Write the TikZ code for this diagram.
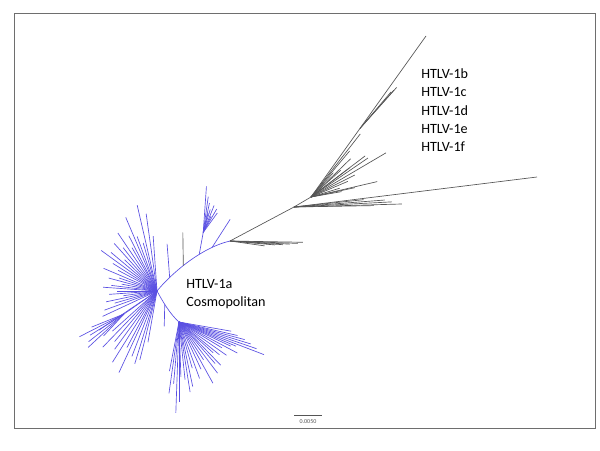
\documentclass[tikz,border=0pt]{standalone}
\usepackage{fontspec}
\setmainfont{Carlito}
\usetikzlibrary{positioning}
\definecolor{treeBlue} {HTML}{5A50E2}
\definecolor{treeGrey} {HTML}{555555}
\definecolor{frameGrey}{HTML}{6E6E6E}

\begin{document}
\begin{tikzpicture}[x=0.75pt, y=-0.75pt,
    blueleaf/.style={draw=treeBlue, line width=0.5pt},
    greyleaf/.style={draw=treeGrey, line width=0.5pt},
    clade/.style={font=\fontsize{10.6}{12}\selectfont, anchor=base west, inner sep=0pt}]
  \useasboundingbox (0,0) rectangle (600,450);
  \draw[frameGrey, line width=0.6pt] (14,13) rectangle (595,428);

  % hubs and junctions
  \coordinate (hubA) at (157,291);
  \coordinate (hubB) at (179,322);
  \coordinate (subA) at (124,314);
  \coordinate (jnA) at (230,241);
  \coordinate (jnB) at (294,207);
  \coordinate (hubC) at (311,197);
  \coordinate (tipTop) at (426,36);
  \coordinate (tipRight) at (537,177);

  % backbone (cosmopolitan part)
  \draw[blueleaf] (hubA) .. controls (170,275) and (200,248) .. (jnA)
    coordinate[pos=0.25] (bbA) coordinate[pos=0.45] (bbB)
    coordinate[pos=0.65] (bbC) coordinate[pos=0.8] (bbD);
  \draw[blueleaf] (hubA) .. controls (163,302) and (170,314) .. (hubB)
    coordinate[pos=0.4] (bbE);
  \draw[blueleaf] (bbA) -- ++(-2.6,-33.5);
  \draw[greyleaf] (bbB) -- ++(-0.5,-33);
  \draw[blueleaf] (bbC) -- ++(4,-22) coordinate (hubD);
  \draw[blueleaf] (bbD) -- ++(18,-28);
  \draw[blueleaf] (bbE) -- ++(-0.5,22);
  \draw[blueleaf] (hubA) -- (subA);

  % main blue fan
  \foreach \a/\l in {266/55, 262/78, 257/88, 254/50, 250/58, 247/80, 243/62,
      240/50, 236/70, 232/55, 228/64, 224/45, 220/60, 216/69, 212/52, 208/44,
      203/58, 199/40, 195/50, 191/36, 187/46, 184/54, 180/40, 176/48, 172/34,
      168/52, 164/44, 160/56, 155/60, 146/70, 138/60, 134/78, 130/66, 126/72,
      122/84, 118/64, 115/90, 111/70, 107/76, 104/71, 100/52}
    \draw[blueleaf] (hubA) -- ++(\a:\l);
  \foreach \a/\l in {153/50, 148/40, 142/45, 137/49, 158/35, 133/30}
    \draw[blueleaf] (subA) -- ++(\a:\l);

  % lower blue fan
  \foreach \a/\l in {10/53, 13/60, 15/68, 17/75, 19/82, 21/91, 23/62, 25/57,
      28/66, 31/50, 35/58, 39/52, 42/46, 46/60, 49/55, 53/64, 57/45, 61/70,
      65/52, 70/60, 74/48, 78/66, 81/71, 84/58, 88/55, 90/80, 92/91, 95/62,
      98/72, 101/50}
    \draw[blueleaf] (hubB) -- ++(\a:\l);

  % upper blue fan
  \foreach \a/\l in {274/46, 278/36, 282/30, 284/20, 287/24, 292/29, 296/18,
      300/27, 306/24}
    \draw[blueleaf] (hubD) -- ++(\a:\l);

  % grey part
  \draw[greyleaf] (jnA) -- (jnB) -- (hubC);
  \draw[greyleaf] (jnB) -- (tipRight);
  \draw[greyleaf] (hubC) -- (tipTop) coordinate[pos=0.426] (midTop);
  \foreach \a/\l in {1/73, 2/68, 3/60, 4/53, 5/45, 8/35}
    \draw[greyleaf] (jnA) -- ++(\a:\l);
  \foreach \a/\l in {354/70, 355.6/91, 357/98, 358.4/108, 359/80}
    \draw[greyleaf] (jnB) -- ++(\a:\l);
  \foreach \a/\l in {308/80, 310/60, 312.5/33, 316/55, 318/40, 322.8/68,
      323/48, 325.6/69, 329.5/87, 333.4/49, 337/40, 343/30, 346.9/68,
      348/45, 350/31}
    \draw[greyleaf] (hubC) -- ++(\a:\l);
  \foreach \a/\l in {310.4/48, 311.5/51, 311.8/55}
    \draw[greyleaf] (midTop) -- ++(\a:\l);

  % labels
  \node[clade] (labB) at (421,78) {HTLV-1b};
  \node[clade] (labC) at (421,96.5) {HTLV-1c};
  \node[clade] (labD) at (421,115) {HTLV-1d};
  \node[clade] (labE) at (421,133) {HTLV-1e};
  \node[clade] (labF) at (421,151.5) {HTLV-1f};
  \node[clade] (labA) at (186,288) {HTLV-1a};
  \node[clade] (labCos) at (186,306.5) {Cosmopolitan};

  % scale bar
  \coordinate (sbL) at (294,415);
  \coordinate (sbR) at (322,415);
  \draw[treeGrey, line width=0.6pt] (sbL) -- (sbR)
    node[midway, below=3.5pt, inner sep=0pt, font=\fontsize{4.5}{5}\selectfont] (sbLab) {0.0050};
\end{tikzpicture}
\end{document}
